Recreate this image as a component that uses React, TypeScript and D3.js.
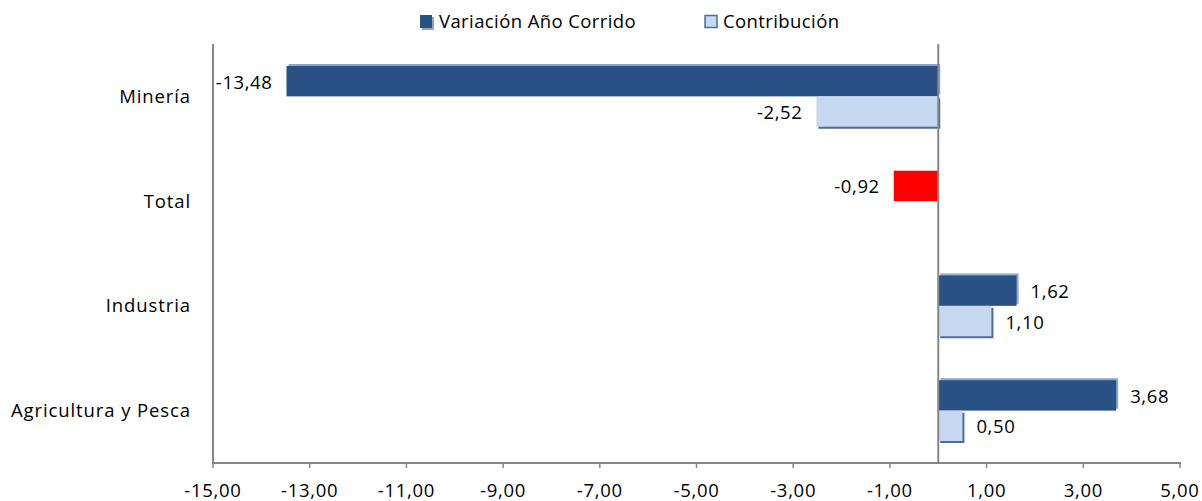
import React from "react";
import * as d3 from "d3";

const categories = ["Minería", "Total", "Industria", "Agricultura y Pesca"];
const variacion = [-13.48, -0.92, 1.62, 3.68];
const contribucion: (number | null)[] = [-2.52, null, 1.10, 0.50];
const xTicks = [-15, -13, -11, -9, -7, -5, -3, -1, 1, 3, 5];
const seriesNames = ["Variación Año Corrido", "Contribución"];

const W = 1202;
const H = 501;
const FONT = "'Open Sans', Lato, sans-serif";
const FS = 18.5;
const LS = 0.4;
const DARK = "#2A5185";
const DARK_SH = "#8DA7CB";
const LIGHT = "#C6D9F1";
const LIGHT_SH = "#4A6D9E";
const AXIS = "#868686";

const fmt = (v: number) => v.toFixed(2).replace(".", ",");

export default function App() {
  const x = d3.scaleLinear().domain([-15, 5]).range([213, 1180]);
  const y = d3.scaleBand<string>().domain(categories).range([44, 463]).padding(0);
  const bh = y.bandwidth() * 0.29;
  const x0 = x(0);

  const txt = { fontSize: FS, fontFamily: FONT, letterSpacing: LS, fill: "#000" } as const;

  const bars: React.ReactNode[] = [];
  categories.forEach((c, i) => {
    const cy = (y(c) as number) + y.bandwidth() / 2;
    const v = variacion[i];
    const isTotal = c === "Total";
    const xa = Math.min(x(v), x0);
    const wa = Math.abs(x(v) - x0);
    if (isTotal) {
      bars.push(<rect key={"v" + i} x={xa} y={cy - bh} width={wa} height={bh} fill="#FF0000" />);
    } else {
      bars.push(<rect key={"vs" + i} x={xa + 2} y={cy - bh - 2} width={wa} height={bh} fill={DARK_SH} />);
      bars.push(<rect key={"v" + i} x={xa} y={cy - bh} width={wa} height={bh} fill={DARK} />);
    }
    bars.push(
      <text
        key={"vl" + i}
        x={v < 0 ? x(v) - 14 : x(v) + 14}
        y={cy - bh / 2 + 1}
        dy="0.35em"
        textAnchor={v < 0 ? "end" : "start"}
        {...txt}
        letterSpacing={0.6}
      >
        {fmt(v)}
      </text>
    );
    const cv = contribucion[i];
    if (cv !== null) {
      const xb = Math.min(x(cv), x0);
      const wb = Math.abs(x(cv) - x0);
      bars.push(<rect key={"cs" + i} x={xb + 2} y={cy + 2} width={wb} height={bh} fill={LIGHT_SH} />);
      bars.push(<rect key={"c" + i} x={xb} y={cy} width={wb} height={bh} fill={LIGHT} />);
      bars.push(
        <text
          key={"cl" + i}
          x={cv < 0 ? x(cv) - 14 : x(cv) + 14}
          y={cy + bh / 2 + 1}
          dy="0.35em"
          textAnchor={cv < 0 ? "end" : "start"}
          {...txt}
          letterSpacing={0.6}
        >
          {fmt(cv)}
        </text>
      );
    }
  });

  return (
    <svg width={W} height={H} style={{ position: "absolute", left: 0, top: 0, background: "#fff" }}>
      {/* legend */}
      <g>
        <rect x={422} y={17} width={12} height={13} fill={DARK_SH} />
        <rect x={420} y={15} width={12} height={13} fill={DARK} />
        <text x={439} y={22} dy="0.35em" {...txt}>{seriesNames[0]}</text>
        <rect x={705} y={15.5} width={12} height={12} fill={LIGHT} stroke={LIGHT_SH} strokeWidth={1.5} />
        <text x={723} y={22} dy="0.35em" {...txt}>{seriesNames[1]}</text>
      </g>
      {bars}
      {/* zero line */}
      <line x1={x0} x2={x0} y1={44} y2={463} stroke={AXIS} strokeWidth={2} />
      {/* left axis */}
      <line x1={213} x2={213} y1={44} y2={464} stroke={AXIS} strokeWidth={2} />
      {/* bottom axis */}
      <line x1={212} x2={1181} y1={463} y2={463} stroke={AXIS} strokeWidth={2} />
      {xTicks.map((t) => (
        <g key={t}>
          <line x1={x(t)} x2={x(t)} y1={463} y2={468} stroke={AXIS} strokeWidth={1.5} />
          <text x={x(t)} y={491} dy="0.35em" textAnchor="middle" {...txt} letterSpacing={0.7}>
            {fmt(t)}
          </text>
        </g>
      ))}
      {categories.map((c) => (
        <text
          key={c}
          x={191}
          y={(y(c) as number) + y.bandwidth() / 2}
          dy="0.35em"
          textAnchor="end"
          {...txt}
          letterSpacing={0.9}
        >
          {c}
        </text>
      ))}
    </svg>
  );
}
